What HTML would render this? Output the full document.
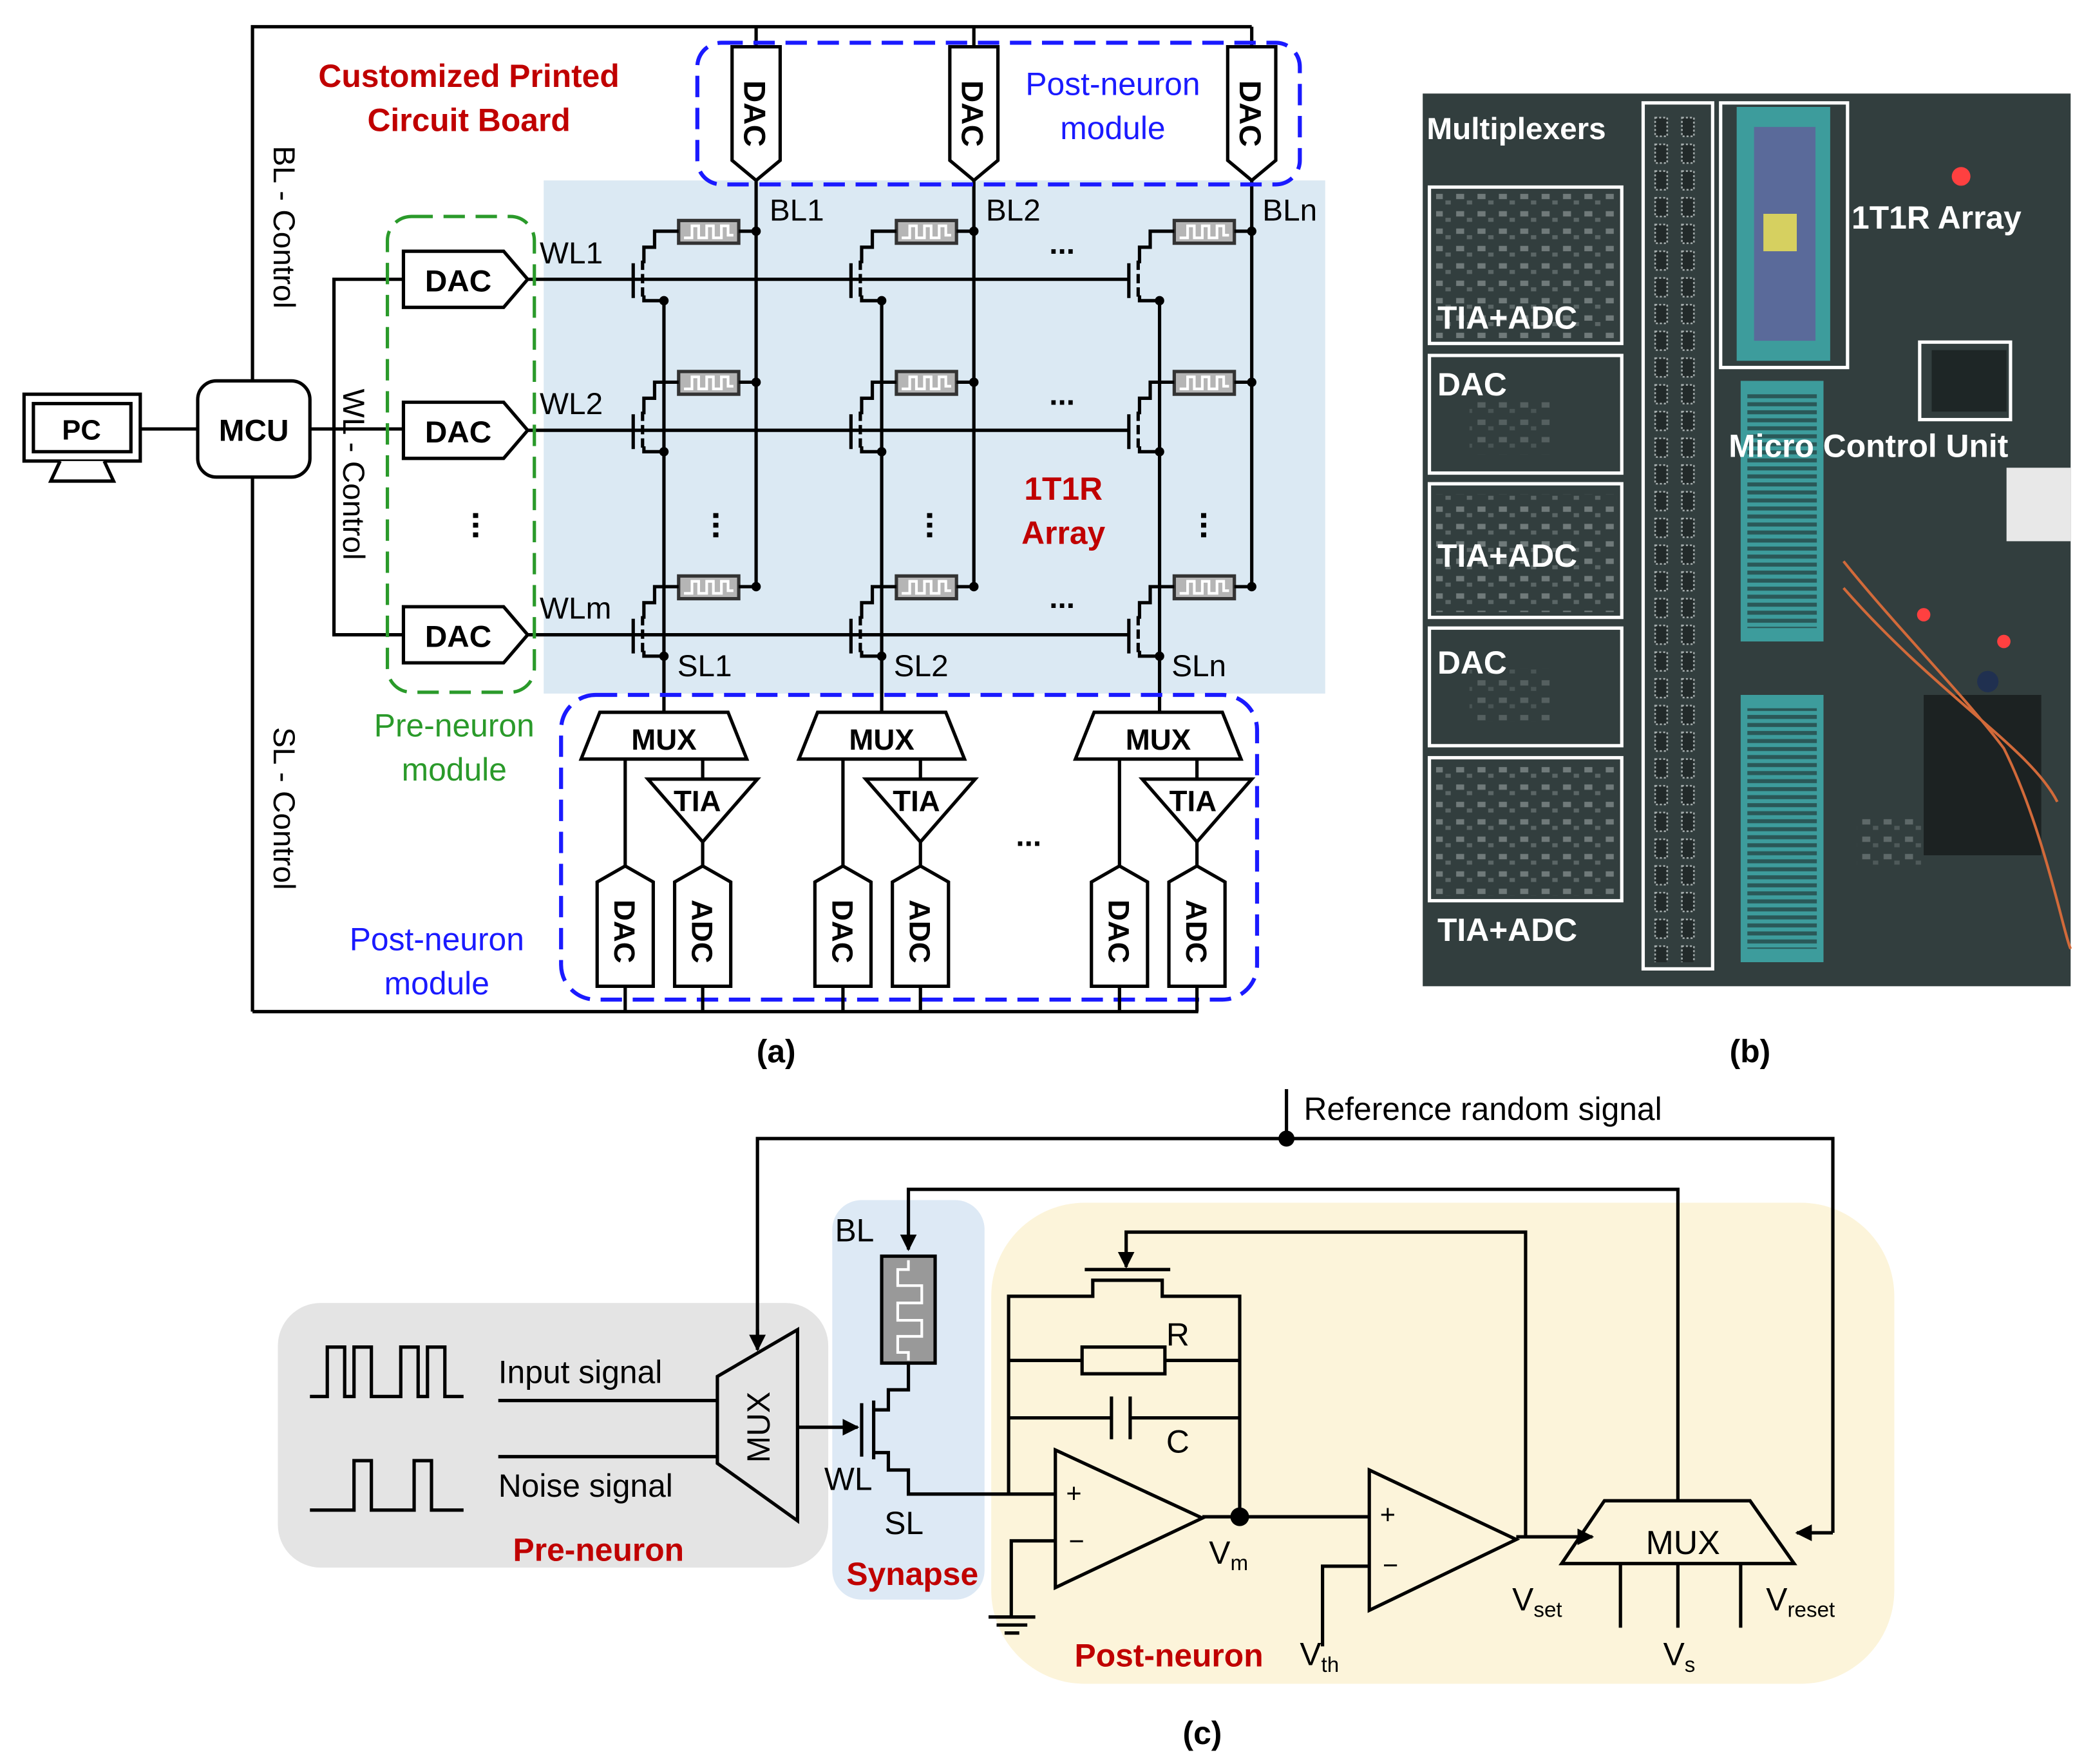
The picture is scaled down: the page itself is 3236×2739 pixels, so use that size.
<!DOCTYPE html>
<html><head><meta charset="utf-8"><style>
html,body{margin:0;padding:0;background:#fff;}
svg{display:block;}
text{font-family:"Liberation Sans",Arial,sans-serif;}
</style></head><body>
<svg width="3236" height="2739" viewBox="0 0 1560 1320" preserveAspectRatio="none" xmlns="http://www.w3.org/2000/svg">
<defs>
<marker id="ar" viewBox="0 0 10 10" refX="9" refY="5" markerWidth="5" markerHeight="5" orient="auto"><path d="M0,0 L10,5 L0,10 z" fill="#000"/></marker>
<pattern id="chips" x="1236" y="85" width="20" height="20" patternUnits="userSpaceOnUse">
 <rect x="3" y="3" width="9" height="14" fill="#222a2a" stroke="#a8b0b0" stroke-width="1.2" stroke-dasharray="1.5,1.5"/>
</pattern>
<pattern id="comps" x="0" y="0" width="16" height="13" patternUnits="userSpaceOnUse">
 <rect x="2" y="2" width="6" height="4" fill="#8a9494"/>
 <rect x="10" y="7" width="4" height="3" fill="#6c7777"/>
</pattern>
<pattern id="pins" x="0" y="0" width="6" height="6" patternUnits="userSpaceOnUse">
 <rect x="0" y="1" width="6" height="3" fill="#1e2a2a"/>
</pattern>
<g id="cell" fill="none" stroke="#000" stroke-width="2.5">
 <rect x="-58" y="-44" width="45" height="17" fill="#b5b5b5" stroke="#333"/>
 <path d="M-54,-31 H-48 V-40 H-43 V-31 H-37 V-40 H-32 V-31 H-26 V-40 H-21 V-33 H-17" stroke="#fff" stroke-width="2"/>
 <line x1="-13" y1="-36" x2="0" y2="-36"/>
 <circle cx="0" cy="-36" r="3.5" fill="#000" stroke="none"/>
 <path d="M-58,-36 H-76 V-24 H-84 V-12"/>
 <line x1="-85" y1="-14" x2="-85" y2="14" stroke-dasharray="7,3"/>
 <line x1="-92" y1="-12" x2="-92" y2="14"/>
 <path d="M-84,12 V16 H-69"/>
 <circle cx="-69" cy="16" r="3.5" fill="#000" stroke="none"/>
</g>
<g id="bot" fill="#fff" stroke="#000" stroke-width="2.5">
 <line x1="-29" y1="568" x2="-29" y2="648"/>
 <line x1="29" y1="568" x2="29" y2="583"/>
 <line x1="29" y1="630" x2="29" y2="648"/>
 <polygon points="-48,533 48,533 62,568 -62,568"/>
 <polygon points="-12,583 70,583 29,630"/>
 <polygon points="-29,648 -8,660 -8,738 -50,738 -50,660"/>
 <polygon points="29,648 50,660 50,738 8,738 8,660"/>
 <line x1="-29" y1="738" x2="-29" y2="757"/>
 <line x1="29" y1="738" x2="29" y2="757"/>
</g>
</defs>

<!-- ===== (a) ===== -->
<rect x="407" y="135" width="585" height="384" fill="#dbe9f3"/>
<g fill="none" stroke="#000" stroke-width="2.5">
 <path d="M189,757 V20 H937"/>
 <line x1="189" y1="757" x2="897" y2="757"/>
 <line x1="566" y1="20" x2="566" y2="439"/>
 <line x1="729" y1="20" x2="729" y2="439"/>
 <line x1="937" y1="20" x2="937" y2="439"/>
 <line x1="105" y1="321" x2="148" y2="321"/>
 <line x1="232" y1="321" x2="302" y2="321"/>
 <path d="M302,209 H250 V475 H302"/>
 <line x1="395" y1="209" x2="845" y2="209"/>
 <line x1="395" y1="322" x2="845" y2="322"/>
 <line x1="395" y1="475" x2="845" y2="475"/>
 <line x1="497" y1="225" x2="497" y2="533"/>
 <line x1="660" y1="225" x2="660" y2="533"/>
 <line x1="868" y1="225" x2="868" y2="533"/>
</g>
<use href="#cell" x="566" y="209"/><use href="#cell" x="566" y="322"/><use href="#cell" x="566" y="475"/>
<use href="#cell" x="729" y="209"/><use href="#cell" x="729" y="322"/><use href="#cell" x="729" y="475"/>
<use href="#cell" x="937" y="209"/><use href="#cell" x="937" y="322"/><use href="#cell" x="937" y="475"/>

<g fill="#fff" stroke="#000" stroke-width="2.5">
 <polygon points="548,35 584,35 584,120 566,135 548,120"/>
 <polygon points="711,35 747,35 747,120 729,135 711,120"/>
 <polygon points="919,35 955,35 955,120 937,135 919,120"/>
 <polygon points="302,188 377,188 395,209 377,230 302,230"/>
 <polygon points="302,301 377,301 395,322 377,343 302,343"/>
 <polygon points="302,454 377,454 395,475 377,496 302,496"/>
 <rect x="148" y="285" width="84" height="72" rx="14"/>
 <rect x="18" y="295" width="87" height="50"/>
 <rect x="25" y="302" width="73" height="36"/>
 <path d="M45,345 L38,360 H85 L78,345" />
</g>
<g font-weight="bold" font-size="23" text-anchor="middle">
 <text transform="translate(557,85) rotate(90)">DAC</text>
 <text transform="translate(720,85) rotate(90)">DAC</text>
 <text transform="translate(928,85) rotate(90)">DAC</text>
 <text x="343" y="218">DAC</text>
 <text x="343" y="331">DAC</text>
 <text x="343" y="484">DAC</text>
 <text x="190" y="330">MCU</text>
 <text x="61" y="329" font-size="21">PC</text>
</g>
<rect x="522" y="32" width="451" height="106" rx="18" fill="none" stroke="#1a1aff" stroke-width="3" stroke-dasharray="16,8"/>
<rect x="290" y="162" width="110" height="356" rx="18" fill="none" stroke="#2a9a2a" stroke-width="2.5" stroke-dasharray="16,8"/>
<rect x="420" y="520" width="521" height="228" rx="26" fill="none" stroke="#1a1aff" stroke-width="3" stroke-dasharray="16,8"/>

<use href="#bot" x="497"/><use href="#bot" x="660"/><use href="#bot" x="867"/>
<g font-weight="bold" font-size="22" text-anchor="middle">
 <text x="497" y="561">MUX</text><text x="660" y="561">MUX</text><text x="867" y="561">MUX</text>
 <text x="522" y="607">TIA</text><text x="686" y="607">TIA</text><text x="893" y="607">TIA</text>
 <text transform="translate(460,697) rotate(90)">DAC</text>
 <text transform="translate(518,697) rotate(90)">ADC</text>
 <text transform="translate(623,697) rotate(90)">DAC</text>
 <text transform="translate(681,697) rotate(90)">ADC</text>
 <text transform="translate(830,697) rotate(90)">DAC</text>
 <text transform="translate(888,697) rotate(90)">ADC</text>
</g>

<g font-size="23" fill="#000">
 <text x="576" y="165">BL1</text><text x="738" y="165">BL2</text><text x="945" y="165">BLn</text>
 <text x="404" y="197">WL1</text><text x="404" y="310">WL2</text><text x="404" y="463">WLm</text>
 <text x="507" y="506">SL1</text><text x="669" y="506">SL2</text><text x="877" y="506">SLn</text>
 <text x="795" y="190" text-anchor="middle" font-weight="bold">...</text>
 <text x="795" y="303" text-anchor="middle" font-weight="bold">...</text>
 <text x="795" y="455" text-anchor="middle" font-weight="bold">...</text>
 <text x="770" y="633" text-anchor="middle" font-weight="bold">...</text>
 <text transform="translate(205,170) rotate(90)" text-anchor="middle">BL - Control</text>
 <text transform="translate(257,355) rotate(90)" text-anchor="middle">WL - Control</text>
 <text transform="translate(205,605) rotate(90)" text-anchor="middle">SL - Control</text>
</g>
<g font-size="26" font-weight="bold" text-anchor="middle">
 <text transform="translate(354,393) rotate(90)">...</text>
 <text transform="translate(534,393) rotate(90)">...</text>
 <text transform="translate(694,393) rotate(90)">...</text>
 <text transform="translate(899,393) rotate(90)">...</text>
</g>
<g font-size="24" font-weight="bold" fill="#c00000" text-anchor="middle">
 <text x="351" y="65">Customized Printed</text>
 <text x="351" y="98">Circuit Board</text>
 <text x="796" y="374">1T1R</text>
 <text x="796" y="407">Array</text>
</g>
<g font-size="24" text-anchor="middle">
 <text x="833" y="71" fill="#1a1aff">Post-neuron</text>
 <text x="833" y="104" fill="#1a1aff">module</text>
 <text x="340" y="551" fill="#2a9a2a">Pre-neuron</text>
 <text x="340" y="584" fill="#2a9a2a">module</text>
 <text x="327" y="711" fill="#1a1aff">Post-neuron</text>
 <text x="327" y="744" fill="#1a1aff">module</text>
</g>

<!-- ===== (b) photo ===== -->
<rect x="1065" y="70" width="485" height="668" fill="#323e3e"/>
<rect x="1075" y="145" width="135" height="108" fill="url(#comps)" opacity="0.7"/>
<rect x="1075" y="370" width="135" height="88" fill="url(#comps)" opacity="0.7"/>
<rect x="1075" y="572" width="135" height="98" fill="url(#comps)" opacity="0.7"/>
<rect x="1100" y="300" width="60" height="40" fill="url(#comps)" opacity="0.4"/>
<rect x="1100" y="500" width="60" height="40" fill="url(#comps)" opacity="0.4"/>
<rect x="1236" y="85" width="40" height="635" fill="url(#chips)"/>
<g fill="#3d9c9c">
 <rect x="1300" y="80" width="70" height="190"/>
 <rect x="1303" y="285" width="62" height="195"/>
 <rect x="1303" y="520" width="62" height="200"/>
</g>
<rect x="1308" y="295" width="52" height="175" fill="url(#pins)" opacity="0.6"/>
<rect x="1308" y="530" width="52" height="180" fill="url(#pins)" opacity="0.6"/>
<rect x="1313" y="95" width="46" height="160" fill="#5a6a9a"/>
<rect x="1320" y="160" width="25" height="28" fill="#d6d060"/>
<rect x="1446" y="262" width="56" height="46" fill="#1e2626"/>
<rect x="1440" y="520" width="88" height="120" fill="#1c2222"/>
<rect x="1502" y="350" width="48" height="55" fill="#e8e8e8"/>
<rect x="1390" y="610" width="50" height="40" fill="url(#comps)" opacity="0.5"/>
<path d="M1380,420 C1420,470 1470,520 1500,560 C1530,620 1545,700 1550,710" fill="none" stroke="#d26a3a" stroke-width="2"/>
<path d="M1380,440 C1450,520 1520,560 1540,600" fill="none" stroke="#d26a3a" stroke-width="2"/>
<circle cx="1468" cy="132" r="7" fill="#ff4040"/>
<circle cx="1440" cy="460" r="5" fill="#ff4040"/><circle cx="1500" cy="480" r="5" fill="#ff4040"/>
<circle cx="1488" cy="510" r="8" fill="#203050"/>
<g fill="none" stroke="#fff" stroke-width="2.5">
 <rect x="1230" y="77" width="52" height="648"/>
 <rect x="1288" y="77" width="95" height="198"/>
 <rect x="1437" y="256" width="68" height="58"/>
 <rect x="1070" y="140" width="144" height="117"/>
 <rect x="1070" y="266" width="144" height="88"/>
 <rect x="1070" y="362" width="144" height="100"/>
 <rect x="1070" y="470" width="144" height="88"/>
 <rect x="1070" y="567" width="144" height="107"/>
</g>
<g fill="#fff" font-weight="bold" font-size="23">
 <text x="1068" y="104">Multiplexers</text>
 <text x="1386" y="171" font-size="24">1T1R Array</text>
 <text x="1294" y="342" font-size="24">Micro Control Unit</text>
 <text x="1076" y="246" font-size="24">TIA+ADC</text>
 <text x="1076" y="296" font-size="24">DAC</text>
 <text x="1076" y="424" font-size="24">TIA+ADC</text>
 <text x="1076" y="504" font-size="24">DAC</text>
 <text x="1076" y="704" font-size="24">TIA+ADC</text>
</g>

<g font-size="24" font-weight="bold" text-anchor="middle">
 <text x="581" y="795">(a)</text><text x="1310" y="795">(b)</text><text x="900" y="1305">(c)</text>
</g>

<!-- ===== (c) ===== -->
<rect x="208" y="975" width="412" height="198" rx="32" fill="#e4e4e4"/>
<rect x="623" y="898" width="114" height="299" rx="22" fill="#dde9f5"/>
<rect x="742" y="900" width="676" height="360" rx="70" fill="#fcf4da"/>
<g fill="none" stroke="#000" stroke-width="2.5">
 <line x1="963" y1="815" x2="963" y2="852"/>
 <path d="M1372,1147 V852 H567 V1010" />
 <line x1="567" y1="995" x2="567" y2="1010" marker-end="url(#ar)"/>
 <path d="M1372,1147 H1345" marker-end="url(#ar)"/>
 <path d="M1256,1123 V890 H680 V935" marker-end="url(#ar)"/>
 <path d="M232,1045 H245 V1008 H258 V1045 H265 V1008 H278 V1045 H300 V1008 H313 V1045 H320 V1008 H333 V1045 H347"/>
 <path d="M232,1130 H265 V1093 H278 V1130 H310 V1093 H323 V1130 H347"/>
 <line x1="373" y1="1048" x2="537" y2="1048"/>
 <line x1="373" y1="1090" x2="537" y2="1090"/>
 <polygon points="537,1030 597,995 597,1138 537,1095" fill="none"/>
 <line x1="597" y1="1068" x2="642" y2="1068" marker-end="url(#ar)"/>
 <line x1="645" y1="1050" x2="645" y2="1090"/>
 <path d="M654,1048 V1092"/>
 <path d="M654,1055 H665 V1040 H680 V1020"/>
 <path d="M654,1087 H665 V1100 H680 V1118 H790"/>
 <path d="M755,1118 V970 H818 V958 H870 V970 H928 V1135"/>
 <line x1="812" y1="950" x2="876" y2="950"/>
 <path d="M1142,1150 V922 H843 V948" marker-end="url(#ar)"/>
 <line x1="755" y1="1018" x2="810" y2="1018"/><line x1="872" y1="1018" x2="928" y2="1018"/>
 <rect x="810" y="1008" width="62" height="20" fill="#fcf4da"/>
 <line x1="755" y1="1061" x2="832" y2="1061"/><line x1="846" y1="1061" x2="928" y2="1061"/>
 <line x1="832" y1="1045" x2="832" y2="1077"/><line x1="846" y1="1045" x2="846" y2="1077"/>
 <polygon points="790,1085 790,1188 900,1136"/>
 <path d="M790,1153 H757 V1210"/>
 <line x1="740" y1="1210" x2="775" y2="1210"/><line x1="746" y1="1216" x2="769" y2="1216"/><line x1="752" y1="1222" x2="763" y2="1222"/>
 <line x1="900" y1="1135" x2="1025" y2="1135"/>
 <polygon points="1025,1100 1025,1205 1135,1152"/>
 <path d="M1025,1172 H990 V1232"/>
 <line x1="1135" y1="1150" x2="1192" y2="1150" marker-end="url(#ar)"/>
 <polygon points="1201,1123 1310,1123 1343,1170 1169,1170"/>
 <line x1="1213" y1="1170" x2="1213" y2="1218"/>
 <line x1="1256" y1="1170" x2="1256" y2="1218"/>
 <line x1="1303" y1="1170" x2="1303" y2="1218"/>
</g>
<circle cx="963" cy="852" r="6" fill="#000"/>
<circle cx="928" cy="1135" r="7" fill="#000"/>
<rect x="660" y="940" width="40" height="80" fill="#999" stroke="#000" stroke-width="2.5"/>
<path d="M680,943 V950 H672 V962 H690 V975 H672 V988 H690 V1000 H672 V1012 H680 V1018" fill="none" stroke="#fff" stroke-width="2"/>
<g font-size="24">
 <text x="976" y="838">Reference random signal</text>
 <text x="373" y="1035">Input signal</text>
 <text x="373" y="1120">Noise signal</text>
 <text transform="translate(576,1068) rotate(-90)" text-anchor="middle">MUX</text>
 <text x="625" y="929">BL</text>
 <text x="617" y="1115">WL</text>
 <text x="662" y="1148">SL</text>
 <text x="873" y="1007">R</text>
 <text x="873" y="1087">C</text>
 <text x="798" y="1124" font-size="20">+</text>
 <text x="800" y="1160" font-size="20">−</text>
 <text x="1033" y="1140" font-size="20">+</text>
 <text x="1035" y="1178" font-size="20">−</text>
 <text x="1232" y="1163" font-size="25">MUX</text>
 <text x="905" y="1170">V<tspan font-size="16" dy="5">m</tspan></text>
 <text x="1132" y="1205">V<tspan font-size="16" dy="5">set</tspan></text>
 <text x="1245" y="1246">V<tspan font-size="16" dy="5">s</tspan></text>
 <text x="1322" y="1205">V<tspan font-size="16" dy="5">reset</tspan></text>
 <text x="973" y="1246">V<tspan font-size="16" dy="5">th</tspan></text>
</g>
<g font-size="24" font-weight="bold" fill="#c00000" text-anchor="middle">
 <text x="448" y="1168">Pre-neuron</text>
 <text x="683" y="1186">Synapse</text>
 <text x="875" y="1247">Post-neuron</text>
</g>
</svg>
</body></html>
